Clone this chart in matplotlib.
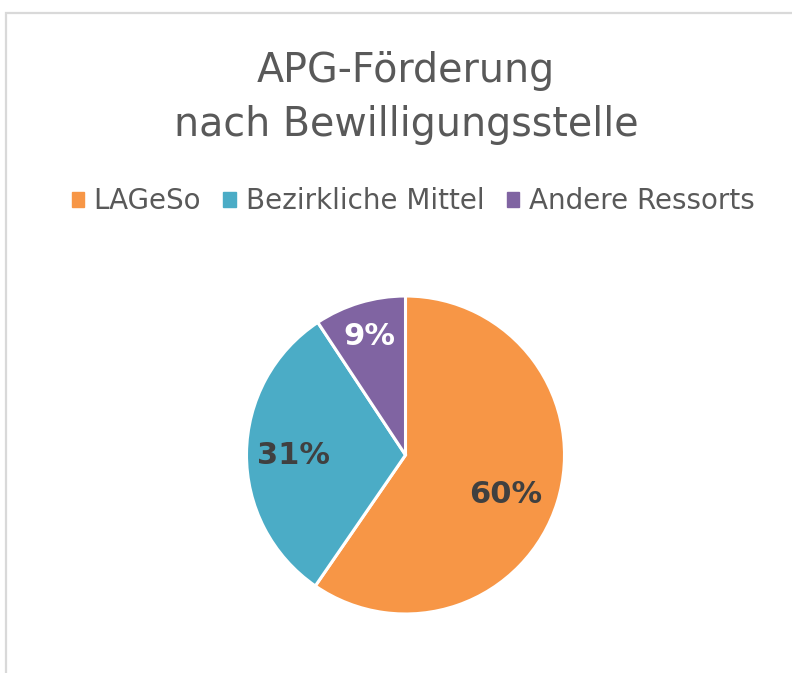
import matplotlib.pyplot as plt
import matplotlib.patches as mpatches
import numpy as np

# ── Data ──────────────────────────────────────────────────────────────────────
labels = ["LAGeSo", "Bezirkliche Mittel", "Andere Ressorts"]
shares = [59.6, 31.1, 9.3]
colors = ["#F79646", "#4BACC6", "#8064A2"]
label_colors = ["#404040", "#404040", "#FFFFFF"]
label_dist = [0.66, 0.705, 0.78]
label_dy = [-0.055, -0.01, 0.0]     # small nudges like Excel's placement

W, H = 792, 673
fig = plt.figure(figsize=(W / 100, H / 100), dpi=100)
fig.patch.set_facecolor("white")

# ── Chart frame (cropped at right/bottom) ────────────────────────────────────
frame = mpatches.Rectangle((6 / W, -0.1), 1.2, 1 - 13 / H + 0.1,
                           transform=fig.transFigure, fill=False,
                           edgecolor="#D9D9D9", linewidth=1.6)
fig.patches.append(frame)

# ── Title ────────────────────────────────────────────────────────────────────
fig.text(406 / W, 1 - 98 / H, "APG-Förderung\nnach Bewilligungsstelle",
         ha="center", va="center", fontsize=28.5, color="#595959",
         linespacing=1.42)

# ── Pie ──────────────────────────────────────────────────────────────────────
cx, cy, r = 405.5, 455, 159
ax = fig.add_axes([(cx - r) / W, 1 - (cy + r) / H, 2 * r / W, 2 * r / H])
wedges, _ = ax.pie(shares, colors=colors, startangle=90, counterclock=False,
                   wedgeprops=dict(edgecolor="white", linewidth=2.2))
ax.set_xlim(-1, 1)
ax.set_ylim(-1, 1)
ax.set_aspect("equal")

for w, val, tc, d, dy in zip(wedges, shares, label_colors, label_dist, label_dy):
    ang = np.deg2rad((w.theta1 + w.theta2) / 2)
    ax.text(d * np.cos(ang), d * np.sin(ang) + dy, f"{round(val)}%",
            ha="center", va="center", fontsize=22, fontweight="bold",
            color=tc)

# ── Legend ───────────────────────────────────────────────────────────────────
handles = [mpatches.Patch(color=c, label=l) for c, l in zip(colors, labels)]
fig.legend(handles=handles, loc="center", bbox_to_anchor=(413 / W, 1 - 201 / H),
           ncol=3, frameon=False, fontsize=20, labelcolor="#595959",
           handlelength=0.45, handleheight=0.45, handletextpad=0.35,
           columnspacing=0.8)

fig.savefig("out.png", dpi=100)
